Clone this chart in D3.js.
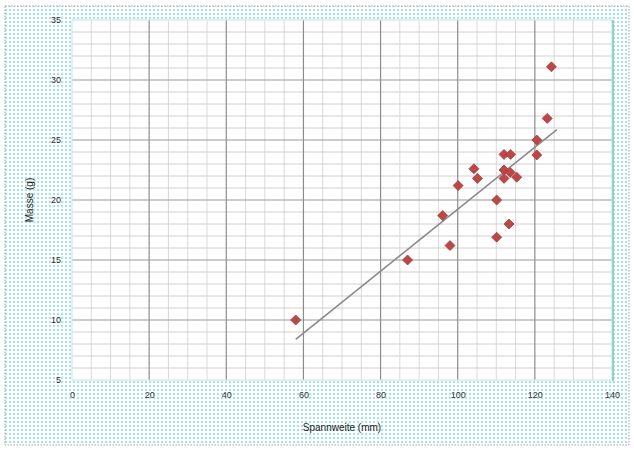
<!DOCTYPE html>
<html>
<head>
<meta charset="utf-8">
<script src="https://cdn.jsdelivr.net/npm/d3@7"></script>
<style>
  html, body { margin: 0; padding: 0; background: #fff; }
  svg { display: block; font-family: "Liberation Sans", Arial, sans-serif; }
</style>
</head>
<body>
<svg id="chart" width="634" height="450"></svg>
<script>
// Wingspan (mm) and mass (g) of the measured specimens
const spanMm = [58, 87, 96.1, 98, 100.1, 104.2, 105.1, 110.1, 110.1, 112, 113.7, 112, 113.6, 112, 115.3, 113.3, 120.5, 120.5, 123.2, 124.3];
const massG  = [10, 15, 18.7, 16.2, 21.2, 22.6, 21.8, 20, 16.9, 23.8, 23.8, 22.5, 22.3, 21.8, 21.9, 18, 25, 23.75, 26.8, 31.1];

const xTicks = [0, 20, 40, 60, 80, 100, 120, 140];
const yTicks = [5, 10, 15, 20, 25, 30, 35];
const xTitle = "Spannweite (mm)";
const yTitle = "Masse (g)";

const svg = d3.select("#chart");
const W = 634, H = 450;
const plot = { left: 72, right: 612, top: 20, bottom: 380 };

// dotted background of the chart area
const defs = svg.append("defs");
const pat = defs.append("pattern")
  .attr("id", "dots").attr("width", 4).attr("height", 4)
  .attr("patternUnits", "userSpaceOnUse");
pat.append("rect").attr("width", 4).attr("height", 4).attr("fill", "#ffffff");
pat.append("rect").attr("x", 1).attr("y", 1).attr("width", 2).attr("height", 2).attr("fill", "#a6e3e7");

svg.append("rect")
  .attr("x", 5).attr("y", 6).attr("width", W - 10).attr("height", H - 11)
  .attr("fill", "url(#dots)")
  .attr("stroke", "#9aa3a6").attr("stroke-width", 1).attr("stroke-dasharray", "1.5,1.5");

const x = d3.scaleLinear().domain([0, 140]).range([plot.left, plot.right]);
const y = d3.scaleLinear().domain([5, 35]).range([plot.bottom, plot.top]);

// plot area
svg.append("rect")
  .attr("x", plot.left).attr("y", plot.top)
  .attr("width", plot.right - plot.left).attr("height", plot.bottom - plot.top)
  .attr("fill", "#ffffff");

const grid = svg.append("g");
// minor grid
grid.selectAll(".vmin").data(d3.range(0, 141, 5).filter(v => v % 20 !== 0))
  .join("line")
  .attr("x1", d => x(d)).attr("x2", d => x(d))
  .attr("y1", plot.top).attr("y2", plot.bottom)
  .attr("stroke", "#d9d9d9").attr("stroke-width", 1);
grid.selectAll(".hmin").data(d3.range(5, 35.01, 1).filter(v => v % 5 !== 0))
  .join("line")
  .attr("x1", plot.left).attr("x2", plot.right)
  .attr("y1", d => y(d)).attr("y2", d => y(d))
  .attr("stroke", "#d0d0d0").attr("stroke-width", 1);
// major grid
grid.selectAll(".vmaj").data(xTicks.slice(1, -1))
  .join("line")
  .attr("x1", d => x(d)).attr("x2", d => x(d))
  .attr("y1", plot.top).attr("y2", plot.bottom)
  .attr("stroke", "#8c8c8c").attr("stroke-width", 1.2);
grid.selectAll(".hmaj").data(yTicks.slice(1, -1))
  .join("line")
  .attr("x1", plot.left).attr("x2", plot.right)
  .attr("y1", d => y(d)).attr("y2", d => y(d))
  .attr("stroke", "#9a9a9a").attr("stroke-width", 1.2);

// plot area border
svg.append("rect")
  .attr("x", plot.left).attr("y", plot.top)
  .attr("width", plot.right - plot.left).attr("height", plot.bottom - plot.top)
  .attr("fill", "none").attr("stroke", "#bfe6e8").attr("stroke-width", 1);
svg.append("line")
  .attr("x1", plot.right + 1).attr("x2", plot.right + 1)
  .attr("y1", plot.top).attr("y2", plot.bottom + 1)
  .attr("stroke", "#7fc4c8").attr("stroke-width", 1.5);

// axes
const xAxis = d3.axisBottom(x).tickValues(xTicks).tickSize(0).tickPadding(12);
const gx = svg.append("g").attr("transform", `translate(0,${plot.bottom})`).call(xAxis);
gx.select(".domain").remove();
gx.selectAll("text").attr("font-size", 9).attr("fill", "#333");

const yAxis = d3.axisLeft(y).tickValues(yTicks).tickSize(0).tickPadding(11);
const gy = svg.append("g").attr("transform", `translate(${plot.left},0)`).call(yAxis);
gy.select(".domain").remove();
gy.selectAll("text").attr("font-size", 9).attr("fill", "#333");

// axis titles
svg.append("text")
  .attr("x", (plot.left + plot.right) / 2).attr("y", 431)
  .attr("text-anchor", "middle").attr("font-size", 10).attr("fill", "#222")
  .text(xTitle);
svg.append("text")
  .attr("transform", `translate(33,${(plot.top + plot.bottom) / 2}) rotate(-90)`)
  .attr("text-anchor", "middle").attr("font-size", 10).attr("fill", "#222")
  .text(yTitle);

// linear least-squares trendline over the observed span
const pts = spanMm.map((v, i) => [v, massG[i]]);
const mx = d3.mean(spanMm), my = d3.mean(massG);
const sxy = d3.sum(pts, p => (p[0] - mx) * (p[1] - my));
const sxx = d3.sum(pts, p => (p[0] - mx) ** 2);
const slope = sxy / sxx, icpt = my - slope * mx;
const [x0, x1] = d3.extent(spanMm);
svg.append("line")
  .attr("x1", x(x0)).attr("y1", y(icpt + slope * x0))
  .attr("x2", x(x1 + 1.4)).attr("y2", y(icpt + slope * (x1 + 1.4)))
  .attr("stroke", "#8a8a8a").attr("stroke-width", 1.6);

// markers: square diamonds
const r = 5;
const diamondPath = `M0,${-r}L${r},0L0,${r}L${-r},0Z`;
svg.append("g").selectAll("path").data(pts).join("path")
  .attr("d", diamondPath)
  .attr("transform", d => `translate(${x(d[0])},${y(d[1])})`)
  .attr("fill", "#bb4747").attr("stroke", "#a63e3e").attr("stroke-width", 0.8)
  .attr("stroke-linejoin", "round");
</script>
</body>
</html>
